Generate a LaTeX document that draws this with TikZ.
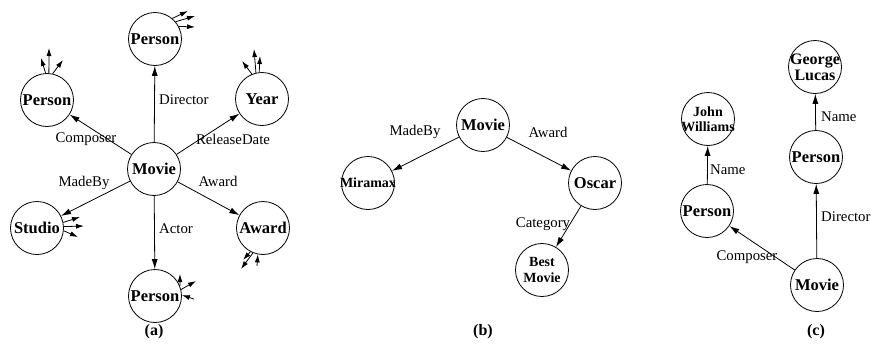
\documentclass[tikz,border=0pt]{standalone}
\usepackage{fontspec}
\setmainfont{Liberation Serif}
\usetikzlibrary{arrows.meta}
\begin{document}
\begin{tikzpicture}[x=1pt,y=-1pt,
  ent/.style={draw,circle,line width=0.8pt,minimum size=53pt,inner sep=-6pt,font=\fontsize{16.5}{16}\selectfont\bfseries,align=center},
  sment/.style={ent,inner sep=-6pt,font=\fontsize{14}{15.5}\selectfont\bfseries},
  lbl/.style={font=\fontsize{14.8}{16}\selectfont,inner sep=0pt},
  arr/.style={line width=0.8pt,-{Latex[length=10pt,width=6pt]}},
  stub/.style={line width=0.8pt,-{Latex[length=8pt,width=5pt]}},
  capt/.style={font=\fontsize{16}{17}\selectfont\bfseries}]
\useasboundingbox (0,0) rectangle (871,346);

% ---------- (a) ----------
\node[ent] (am) at (154,169) {Movie};
\node[ent] (ap1) at (155,39) {Person};
\node[ent] (ap2) at (47,100) {Person};
\node[ent] (ay) at (262,99) {Year};
\node[ent] (as) at (37,228) {Studio};
\node[ent] (aw) at (263,228) {Award};
\node[ent] (ap3) at (155,296) {Person};

\draw[arr] (am) -- (ap1);
\draw[arr] (am) -- (ap2);
\draw[arr] (am) -- (ay);
\draw[arr] (am) -- (as);
\draw[arr] (am) -- (aw);
\draw[arr] (am) -- (ap3);

\node[lbl,anchor=west] (lDir) at (159,100) {Director};
\node[lbl] (lComp) at (86,139) {Composer};
\node[lbl] (lRel) at (233,139) {ReleaseDate};
\node[lbl] (lMade) at (84,183) {MadeBy};
\node[lbl] (lAw) at (218,181) {Award};
\node[lbl,anchor=west] (lAct) at (159,229) {Actor};

% stubs
\coordinate (s11) at (188,11);
\coordinate (s12) at (195,16);
\coordinate (s13) at (195,27);
\draw[stub] (ap1.50) -- (s11);
\draw[stub] (ap1.40) -- (s12);
\draw[stub] (ap1.28) -- (s13);

\coordinate (s21) at (41,58);
\coordinate (s22) at (49,48);
\coordinate (s23) at (63,60);
\draw[stub] (ap2.93) -- (s21);
\draw[stub] (ap2.86) -- (s22);
\draw[stub] (ap2.78) -- (s23);

\coordinate (s31) at (242,61);
\coordinate (s32) at (254,49);
\coordinate (s33) at (260,56);
\draw[stub] (ay.112) -- (s31);
\draw[stub] (ay.103) -- (s32);
\draw[stub] (ay.96) -- (s33);

\coordinate (s41) at (80,217);
\coordinate (s42) at (84,226);
\coordinate (s43) at (78,237);
\draw[stub] (as.12) -- (s41);
\draw[stub] (as.3) -- (s42);
\draw[stub] (as.-6) -- (s43);

\coordinate (s51) at (243,260);
\coordinate (s52) at (241,269);
\coordinate (s53) at (257,266);
\draw[stub] (aw.-118) -- (s51);
\draw[stub] (aw.-112) -- (s52);
\draw[stub] (s53) -- (aw.-101);

\coordinate (s61) at (180,274);
\coordinate (s62) at (196,281);
\coordinate (s63) at (194,299);
\draw[stub] (ap3.22) -- (s61);
\draw[stub] (ap3.14) -- (s62);
\draw[stub] (s63) -- (ap3.2);

\node[capt] (capa) at (154,332) {(a)};

% ---------- (b) ----------
\node[ent] (bm) at (483,125) {Movie};
\node[sment] (bmi) at (368,183) {Miramax};
\node[ent] (bo) at (595,183) {Oscar};
\node[sment] (bb) at (542,270) {Best\\Movie};
\draw[arr] (bm) -- (bmi);
\draw[arr] (bm) -- (bo);
\draw[arr] (bo) -- (bb);
\node[lbl] (bl1) at (415,132) {MadeBy};
\node[lbl] (bl2) at (548,132) {Award};
\node[lbl] (bl3) at (543,224) {Category};
\node[capt] (capb) at (483,332) {(b)};

% ---------- (c) ----------
\node[sment] (cj) at (708,119) {John\\Williams};
\node[ent] (cp1) at (707,211) {Person};
\node[ent,inner sep=-8pt,font=\fontsize{16}{16}\selectfont\bfseries] (cg) at (815,67) {George\\Lucas};
\node[ent] (cp2) at (816,157) {Person};
\node[ent] (cm) at (817,285) {Movie};
\draw[arr] (cp1) -- (cj);
\draw[arr] (cp2) -- (cg);
\draw[arr] (cm) -- (cp1);
\draw[arr] (cm) -- (cp2);
\node[lbl,anchor=west] (cl1) at (710,170) {Name};
\node[lbl,anchor=west] (cl2) at (821,117) {Name};
\node[lbl,anchor=west] (cl3) at (821,217) {Director};
\node[lbl] (cl4) at (747,257) {Composer};
\node[capt] (capc) at (816,332) {(c)};
\end{tikzpicture}
\end{document}
